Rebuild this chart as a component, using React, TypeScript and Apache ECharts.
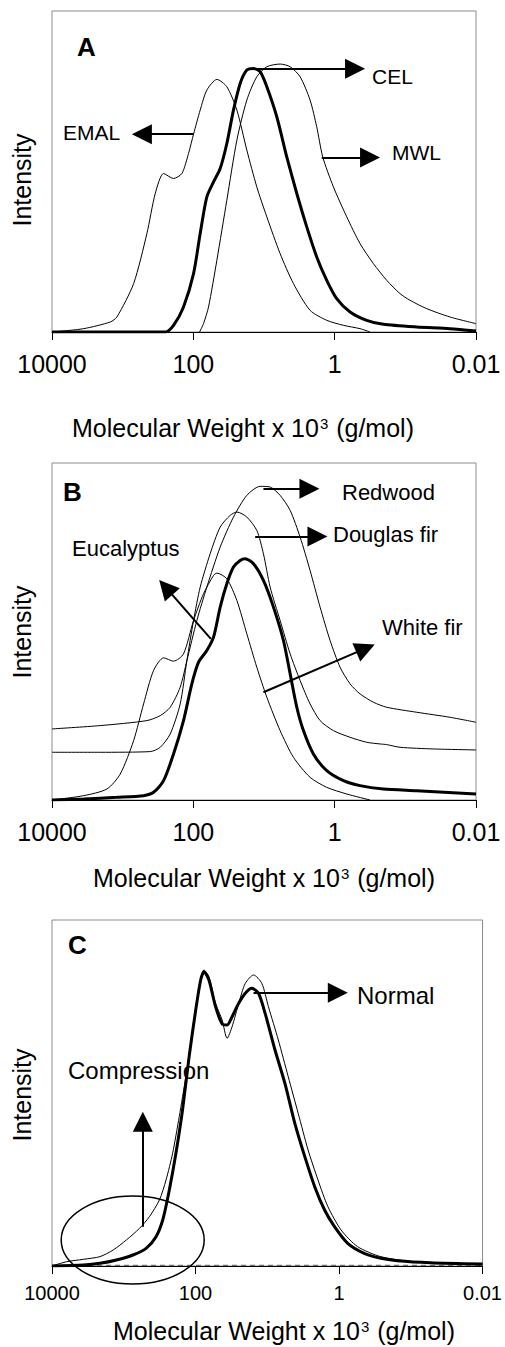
import React, { useEffect, useRef } from "react";
import * as echarts from "echarts";

// x values are log10 of (Molecular Weight x 10^3 g/mol); y values are relative intensity (0-100)
const xTickValues = [-2, 0, 2, 4];
const xTickLabels = ["0.01", "1", "100", "10000"];

// ---------- Panel A ----------
const emalA = [
  [4.0, 0], [3.552, 1.04], [3.175, 3.12], [3.081, 4.68], [2.845, 15.07], [2.657, 30.67],
  [2.539, 43.14], [2.421, 49.38], [2.28, 47.82], [2.162, 49.38], [2.068, 55.61], [1.997, 61.64],
  [1.903, 69.13], [1.809, 75.36], [1.667, 78.69], [1.526, 76.4], [1.384, 69.13], [1.243, 56.65],
  [1.102, 45.22], [0.96, 35.86], [0.772, 24.43], [0.583, 15.07], [0.348, 6.76], [0.112, 3.64],
  [-0.124, 2.08], [-0.359, 1.04], [-0.5, 0],
];
const celA = [
  [4.0, 0], [2.398, 0], [2.28, 2.08], [2.139, 7.8], [1.997, 18.19], [1.903, 30.67], [1.809, 42.1],
  [1.714, 46.78], [1.62, 50.94], [1.526, 58.73], [1.432, 69.13], [1.337, 77.44], [1.243, 81.6],
  [1.149, 82.12], [1.055, 81.08], [0.96, 76.4], [0.819, 67.05], [0.678, 54.57], [0.536, 43.14],
  [0.395, 32.74], [0.254, 23.39], [0.112, 16.11], [-0.029, 10.4], [-0.218, 6.24], [-0.453, 3.64],
  [-0.689, 2.39], [-1.16, 1.56], [-1.631, 1.04], [-2.0, 0.31],
];
const mwlA = [
  [1.912, 0], [1.856, 2.6], [1.785, 7.8], [1.667, 22.35], [1.526, 41.06], [1.384, 59.77],
  [1.243, 72.25], [1.102, 79.52], [0.96, 82.64], [0.772, 83.47], [0.63, 82.64], [0.489, 79.52],
  [0.348, 72.25], [0.254, 63.93], [0.169, 54.57], [0.018, 45.22], [-0.171, 35.86], [-0.359, 27.55],
  [-0.548, 21.31], [-0.736, 16.11], [-0.925, 11.95], [-1.066, 9.88], [-1.302, 7.28], [-1.631, 4.68],
  [-2.0, 2.6],
];

// ---------- Panel B ----------
const redwoodB = [
  [4.0, 21.09], [3.317, 22.08], [2.657, 23.56], [2.468, 25.05], [2.327, 27.52], [2.186, 33.47],
  [2.091, 41.39], [1.95, 53.27], [1.809, 63.17], [1.62, 75.05], [1.432, 83.96], [1.243, 90.4],
  [1.055, 93.07], [0.913, 92.87], [0.772, 90.4], [0.63, 85.94], [0.489, 78.02], [0.348, 68.12],
  [0.206, 57.23], [0.065, 47.33], [-0.076, 39.41], [-0.218, 34.46], [-0.359, 31.49], [-0.548, 29.01],
  [-0.736, 27.52], [-1.16, 26.04], [-1.631, 24.55], [-2.0, 23.07],
];
const douglasFirB = [
  [4.0, 14.16], [3.317, 14.16], [2.61, 14.36], [2.468, 15.64], [2.327, 19.6], [2.186, 28.51],
  [2.091, 41.39], [1.997, 53.27], [1.903, 63.17], [1.762, 73.07], [1.62, 80.99], [1.479, 84.46],
  [1.384, 85.45], [1.243, 83.96], [1.102, 80.0], [1.008, 73.07], [0.913, 63.17], [0.772, 53.27],
  [0.63, 43.37], [0.489, 35.45], [0.348, 28.51], [0.206, 23.56], [0.018, 20.59], [-0.218, 18.61],
  [-0.453, 17.13], [-0.642, 16.63], [-0.736, 16.44], [-0.925, 15.64], [-1.396, 15.15], [-2.0, 14.85],
];
const eucalyptusB = [
  [4.0, 0], [3.552, 1.29], [3.222, 3.27], [3.034, 7.72], [2.845, 17.62], [2.704, 28.51],
  [2.563, 38.42], [2.421, 42.18], [2.28, 41.19], [2.139, 43.37], [1.997, 53.27], [1.856, 61.19],
  [1.714, 66.63], [1.667, 67.33], [1.526, 65.64], [1.384, 59.21], [1.243, 49.31], [1.102, 39.41],
  [0.96, 30.5], [0.772, 20.59], [0.583, 12.67], [0.348, 6.73], [0.112, 3.76], [-0.171, 1.78], [-0.5, 0],
];
const whiteFirB = [
  [4.0, 0], [3.552, 0.3], [3.081, 0.79], [2.704, 1.29], [2.563, 2.28], [2.421, 5.74], [2.28, 13.66],
  [2.139, 23.56], [2.021, 34.46], [1.926, 40.89], [1.809, 44.36], [1.714, 48.32], [1.62, 57.23],
  [1.526, 64.16], [1.432, 69.11], [1.337, 71.09], [1.267, 71.58], [1.149, 70.1], [1.008, 65.15],
  [0.866, 57.23], [0.725, 47.33], [0.63, 37.43], [0.536, 27.52], [0.442, 20.59], [0.301, 13.66],
  [0.112, 8.71], [-0.124, 5.74], [-0.359, 4.26], [-0.689, 3.27], [-1.16, 2.77], [-2.0, 1.78],
];

// ---------- Panel C ----------
const normalC = [
  [4.0, 0], [3.563, 0.29], [3.332, 0.77], [3.102, 1.73], [2.872, 3.18], [2.688, 5.11], [2.55, 8.48],
  [2.457, 13.29], [2.365, 21.97], [2.273, 32.56], [2.181, 45.09], [2.089, 60.5], [1.997, 73.99],
  [1.928, 82.66], [1.882, 85.07], [1.813, 82.66], [1.721, 74.95], [1.629, 69.94], [1.56, 69.65],
  [1.49, 72.06], [1.398, 75.92], [1.306, 78.81], [1.214, 80.25], [1.122, 78.81], [1.03, 73.03],
  [0.892, 62.43], [0.754, 52.79], [0.616, 41.23], [0.477, 31.6], [0.339, 22.93], [0.201, 16.18],
  [0.063, 11.37], [-0.121, 6.55], [-0.351, 3.66], [-0.582, 2.22], [-0.812, 1.54], [-1.272, 0.96],
  [-2.0, 0.58],
];
const compressionC = [
  [4.0, 0], [3.793, 1.25], [3.563, 1.93], [3.332, 2.7], [3.148, 4.62], [2.964, 7.51], [2.78, 10.89],
  [2.642, 14.26], [2.503, 19.08], [2.411, 24.86], [2.319, 32.56], [2.227, 43.16], [2.135, 54.72],
  [2.043, 68.21], [1.951, 80.73], [1.882, 85.55], [1.813, 83.62], [1.721, 75.92], [1.629, 71.1],
  [1.56, 65.8], [1.49, 69.17], [1.398, 75.92], [1.306, 81.7], [1.191, 84.1], [1.076, 81.7],
  [0.984, 74.95], [0.846, 65.32], [0.708, 54.72], [0.569, 44.12], [0.431, 33.53], [0.293, 24.86],
  [0.155, 17.15], [-0.029, 10.4], [-0.259, 5.59], [-0.582, 2.7], [-1.042, 1.25], [-2.0, 0.29],
];
const baselineC = [[4.0, 0.2], [-2.0, 0.2]];

// arrows: [start, end(center of head)]
const arrowsA = [
  [[1.149, 82.0], [-0.289, 82.0]], // CEL
  [[1.997, 61.64], [2.728, 61.64]], // EMAL
  [[0.183, 54.37], [-0.501, 54.37]], // MWL
];
const arrowsB = [
  [[1.008, 92.38], [0.357, 92.38]], // Redwood
  [[1.125, 78.22], [0.244, 78.22]], // Douglas fir
  [[1.752, 47.82], [2.39, 63.08]], // Eucalyptus
  [[1.008, 31.98], [-0.437, 44.97]], // White fir
];
const arrowsC = [
  [[1.191, 79.0], [0.017, 79.0]], // Normal
  [[2.734, 11.37], [2.734, 41.7]], // Compression
];

const xTitle = "Molecular Weight x 10{sup|3} (g/mol)";
const yTitle = "Intensity";

const FONT = "'Liberation Sans', Arial, Helvetica, sans-serif";

export default function App() {
  const ref = useRef<HTMLDivElement>(null);

  useEffect(() => {
    if (!ref.current) return;
    const chart = echarts.init(ref.current, undefined, { renderer: "svg" });

    const grids = [
      { left: 52, top: 11, width: 424, height: 321 },
      { left: 52, top: 463, width: 424, height: 337 },
      { left: 52, top: 920, width: 434, height: 346 },
    ];
    const tickFont = [25, 25, 20];
    const labelMargin = [19, 19, 17];

    const xAxis = grids.map((_, i) => ({
      type: "value",
      gridIndex: i,
      min: -2,
      max: 4,
      interval: 2,
      inverse: true,
      axisLine: { show: true, lineStyle: { color: "#000", width: 1 } },
      axisTick: { show: true, inside: false, length: 8, lineStyle: { color: "#000", width: 1 } },
      splitLine: { show: false },
      axisLabel: {
        show: true,
        color: "#000",
        fontFamily: FONT,
        fontSize: tickFont[i],
        margin: labelMargin[i],
        showMinLabel: true,
        showMaxLabel: true,
        formatter: (v: number) => {
          const k = xTickValues.indexOf(Math.round(v));
          return k >= 0 ? xTickLabels[k] : "";
        },
      },
    }));

    const yAxis = grids.map((_, i) => ({
      type: "value",
      gridIndex: i,
      min: 0,
      max: 100,
      axisLine: { show: false },
      axisTick: { show: false },
      axisLabel: { show: false },
      splitLine: { show: false },
    }));

    const line = (data: number[][], i: number, width: number, extra: any = {}) => ({
      type: "line",
      xAxisIndex: i,
      yAxisIndex: i,
      data,
      smooth: 0.25,
      showSymbol: false,
      symbol: "none",
      silent: true,
      lineStyle: { color: "#000", width },
      z: width > 2 ? 3 : 2,
      ...extra,
    });

    const arrowSeries = (arrows: number[][][], i: number) => ({
      type: "line",
      xAxisIndex: i,
      yAxisIndex: i,
      data: [],
      silent: true,
      markLine: {
        silent: true,
        symbol: ["none", "triangle"],
        symbolSize: [20, 20],
        label: { show: false },
        lineStyle: { color: "#000", width: 2, type: "solid" },
        emphasis: { disabled: true },
        data: arrows.map((a) => [{ coord: a[0] }, { coord: a[1] }]),
      },
      z: 5,
    });

    const txt = (text: string, x: number, y: number, size: number, bold = false) => ({
      type: "text",
      x,
      y,
      silent: true,
      style: {
        text,
        fontFamily: FONT,
        fontSize: size,
        fontWeight: bold ? "bold" : "normal",
        fill: "#000",
        textAlign: "left",
        textVerticalAlign: "middle",
      },
    });
    const vtxt = (text: string, x: number, y: number) => ({
      type: "text",
      x,
      y,
      rotation: Math.PI / 2,
      silent: true,
      style: {
        text,
        fontFamily: FONT,
        fontSize: 25,
        fill: "#000",
        textAlign: "center",
        textVerticalAlign: "middle",
      },
    });
    const titleTxt = (x: number, y: number, size: number) => ({
      type: "text",
      x,
      y,
      silent: true,
      style: {
        text: xTitle,
        fontFamily: FONT,
        fontSize: size,
        fill: "#000",
        textAlign: "center",
        textVerticalAlign: "middle",
        rich: {
          sup: { fontFamily: FONT, fontSize: Math.round(size * 0.6), fill: "#000", verticalAlign: "top", padding: [0, 1, 0, 1] },
        },
      },
    });

    const option: any = {
      animation: false,
      backgroundColor: "#fff",
      grid: grids.map((g) => ({ ...g, show: true, borderColor: "#8c8c8c", borderWidth: 1, backgroundColor: "transparent" })),
      xAxis,
      yAxis,
      series: [
        line(emalA, 0, 1),
        line(celA, 0, 3),
        line(mwlA, 0, 1),
        arrowSeries(arrowsA, 0),
        line(redwoodB, 1, 1),
        line(douglasFirB, 1, 1),
        line(eucalyptusB, 1, 1),
        line(whiteFirB, 1, 3),
        arrowSeries(arrowsB, 1),
        line(baselineC, 2, 1, { smooth: false, lineStyle: { color: "#555", width: 1, type: [5, 4] } }),
        line(compressionC, 2, 1),
        line(normalC, 2, 3),
        arrowSeries(arrowsC, 2),
      ],
      graphic: [
        vtxt(yTitle, 22, 180),
        vtxt(yTitle, 22, 632),
        vtxt(yTitle, 22, 1095),
        titleTxt(243, 428, 25),
        titleTxt(264, 878, 25),
        titleTxt(284, 1331, 25),
        txt("A", 77, 47, 26, true),
        txt("CEL", 372, 76, 21),
        txt("EMAL", 63, 132, 21),
        txt("MWL", 392, 152, 21),
        txt("B", 63, 492, 26, true),
        txt("Redwood", 342, 492, 22),
        txt("Douglas fir", 333, 534, 22),
        txt("Eucalyptus", 72, 548, 22),
        txt("White fir", 382, 627, 22),
        txt("C", 68, 945, 26, true),
        txt("Normal", 357, 995, 24),
        txt("Compression", 68, 1070, 24),
        {
          type: "ellipse",
          silent: true,
          shape: { cx: 132.7, cy: 1240, rx: 71.5, ry: 44 },
          style: { fill: "none", stroke: "#000", lineWidth: 1.5 },
          z: 10,
        },
      ],
    };

    chart.setOption(option);
    return () => chart.dispose();
  }, []);

  return (
    <div
      ref={ref}
      style={{ position: "absolute", left: 0, top: 0, width: 505, height: 1347, background: "#fff" }}
    />
  );
}
